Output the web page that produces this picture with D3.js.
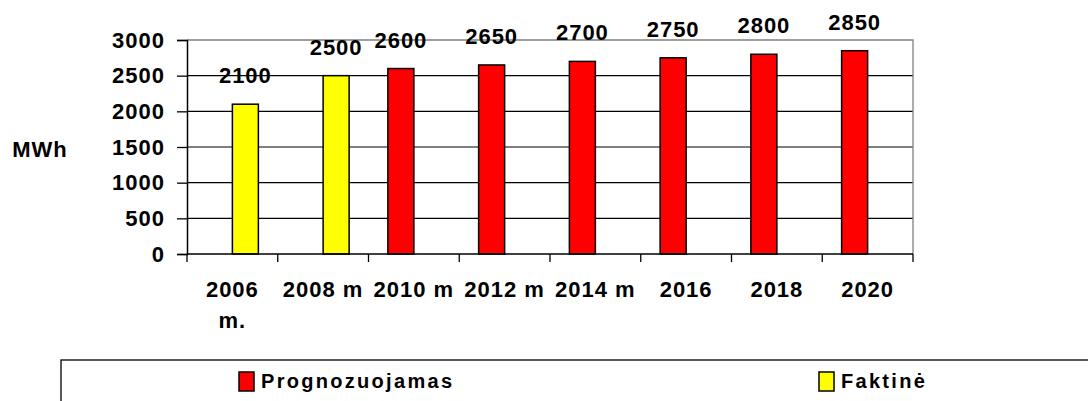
<!DOCTYPE html>
<html>
<head>
<meta charset="utf-8">
<script src="https://cdn.jsdelivr.net/npm/d3@7"></script>
<style>
  body { margin: 0; background: #fff; }
  text { font-family: "Liberation Sans", Arial, sans-serif; font-weight: bold; fill: #000; }
</style>
</head>
<body>
<div id="vis"></div>
<script>
var categories = ['2006 m.', '2008 m', '2010 m', '2012 m', '2014 m', '2016', '2018', '2020'];
var seriesNames = ['Prognozuojamas', 'Faktinė'];
var prognozuojamas = [null, null, 2600, 2650, 2700, 2750, 2800, 2850];
var faktine = [2100, 2500, null, null, null, null, null, null];
var yTicks = [0, 500, 1000, 1500, 2000, 2500, 3000];
var yTitle = 'MWh';

var width = 1088;
var height = 401;
var plot = { left: 187, right: 913, top: 40, bottom: 254 };

var fillColor = d3.scaleOrdinal()
  .domain(seriesNames)
  .range(['#ff0000', '#ffff00']);

var svg = d3.select('#vis')
  .append('svg')
  .attr('width', width)
  .attr('height', height);

svg.append('rect')
  .attr('width', width)
  .attr('height', height)
  .attr('fill', '#fff');

var x0 = d3.scaleBand()
  .domain(categories)
  .range([plot.left, plot.right])
  .paddingInner(0.427)
  .paddingOuter(0.2135);

var x1 = d3.scaleBand()
  .domain(seriesNames)
  .range([0, x0.bandwidth()]);

var y = d3.scaleLinear()
  .domain([0, 3000])
  .range([plot.bottom, plot.top]);

var rows = categories.map(function (c, i) {
  return { cat: c, values: [
    { name: seriesNames[0], value: prognozuojamas[i] },
    { name: seriesNames[1], value: faktine[i] }
  ] };
});

// gridlines
svg.append('g')
  .selectAll('line')
  .data(yTicks.filter(function (d) { return d > 0 && d < 3000; }))
  .enter().append('line')
  .attr('x1', plot.left)
  .attr('x2', plot.right)
  .attr('y1', function (d) { return y(d); })
  .attr('y2', function (d) { return y(d); })
  .attr('stroke', '#000')
  .attr('stroke-width', 1.2);

// plot border (top and right are grey)
svg.append('path')
  .attr('d', 'M' + plot.left + ',' + y(3000) + 'H' + plot.right + 'V' + plot.bottom)
  .attr('fill', 'none')
  .attr('stroke', '#808080')
  .attr('stroke-width', 1.3);

// bars
var groups = svg.selectAll('.group')
  .data(rows)
  .enter().append('g')
  .attr('class', 'group')
  .attr('transform', function (d) { return 'translate(' + x0(d.cat) + ',0)'; });

groups.selectAll('rect')
  .data(function (d) { return d.values.filter(function (v) { return v.value != null; }); })
  .enter().append('rect')
  .attr('x', function (d) { return x1(d.name); })
  .attr('y', function (d) { return y(d.value); })
  .attr('width', x1.bandwidth())
  .attr('height', function (d) { return y(0) - y(d.value); })
  .attr('fill', function (d) { return fillColor(d.name); })
  .attr('stroke', '#000')
  .attr('stroke-width', 1.5);

groups.selectAll('.value')
  .data(function (d) { return d.values.filter(function (v) { return v.value != null; }); })
  .enter().append('text')
  .attr('class', 'value')
  .attr('x', function (d) { return x1(d.name) + x1.bandwidth() / 2; })
  .attr('y', function (d) { return y(d.value) - 21; })
  .attr('text-anchor', 'middle')
  .style('font-size', '22px')
  .style('letter-spacing', '1px')
  .text(function (d) { return d.value; });

// y axis
var yAxis = svg.append('g')
  .attr('transform', 'translate(' + plot.left + ',0)')
  .call(d3.axisLeft(y).tickValues(yTicks).tickSize(10).tickPadding(12).tickFormat(d3.format('d')));

yAxis.select('.domain').attr('stroke', '#000').attr('stroke-width', 1.5);
yAxis.selectAll('.tick line').attr('stroke', '#000').attr('stroke-width', 1.3);
yAxis.selectAll('.tick text')
  .attr('fill', '#000')
  .style('font-size', '22px')
  .style('letter-spacing', '1px')
  .style('font-family', '"Liberation Sans", Arial, sans-serif')
  .style('font-weight', 'bold');

// x axis line and ticks at category boundaries
svg.append('line')
  .attr('x1', plot.left)
  .attr('x2', plot.right)
  .attr('y1', plot.bottom)
  .attr('y2', plot.bottom)
  .attr('stroke', '#000')
  .attr('stroke-width', 1.5);

svg.append('g')
  .selectAll('line')
  .data(d3.range(categories.length + 1))
  .enter().append('line')
  .attr('x1', function (i) { return plot.left + i * x0.step(); })
  .attr('x2', function (i) { return plot.left + i * x0.step(); })
  .attr('y1', plot.bottom)
  .attr('y2', plot.bottom + 8)
  .attr('stroke', '#000')
  .attr('stroke-width', 1.3);

var xLabels = svg.append('g')
  .selectAll('text')
  .data(categories)
  .enter().append('text')
  .attr('x', function (d) { return x0(d) + x0.bandwidth() / 2; })
  .attr('y', 297)
  .attr('text-anchor', 'middle')
  .style('font-size', '22px')
  .style('letter-spacing', '1px')
  .text(function (d) { return d; });

xLabels.each(function (d) {
  var t = d3.select(this);
  if (this.getComputedTextLength() > 84) {
    var words = d.split(' ');
    var last = words.pop();
    var cx = t.attr('x');
    t.text(null);
    t.append('tspan').attr('x', cx).text(words.join(' '));
    t.append('tspan').attr('x', cx).attr('dy', 31).text(last);
  }
});

// y title
svg.append('text')
  .attr('x', 40)
  .attr('y', 157)
  .attr('text-anchor', 'middle')
  .style('font-size', '22px')
  .style('letter-spacing', '1px')
  .text(yTitle);

// legend
svg.append('rect')
  .attr('x', 61)
  .attr('y', 360)
  .attr('width', 1100)
  .attr('height', 80)
  .attr('fill', '#fff')
  .attr('stroke', '#000')
  .attr('stroke-width', 1.3);

var legendX = d3.scaleOrdinal()
  .domain(seriesNames)
  .range([239, 819]);

var legend = svg.selectAll('.legend')
  .data(seriesNames)
  .enter().append('g')
  .attr('class', 'legend')
  .attr('transform', function (d) { return 'translate(' + legendX(d) + ',372)'; });

legend.append('rect')
  .attr('width', 15)
  .attr('height', 19)
  .attr('fill', function (d) { return fillColor(d); })
  .attr('stroke', '#000')
  .attr('stroke-width', 1.5);

legend.append('text')
  .attr('x', 22)
  .attr('y', 16)
  .style('font-size', '20px')
  .style('letter-spacing', '2.3px')
  .text(function (d) { return d; });
</script>
</body>
</html>
